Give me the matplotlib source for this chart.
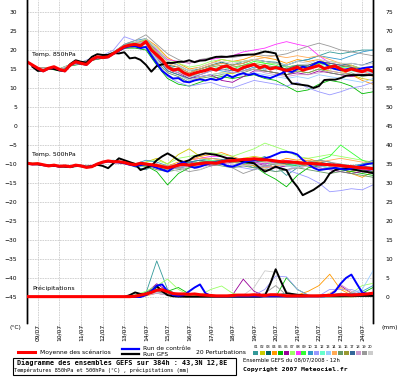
import matplotlib
matplotlib.use("Agg")
from matplotlib import pyplot as plt
from matplotlib.lines import Line2D
from matplotlib.patches import Rectangle

# échéances (heures depuis le 08/07 12h)
HOURS_6 = list(range(0, 385, 6))
HOURS_12 = list(range(0, 385, 12))
DAY_HOURS = list(range(12, 384, 24))
DAYS = ["09/07", "10/07", "11/07", "12/07", "13/07", "14/07", "15/07", "16/07",
        "17/07", "18/07", "19/07", "20/07", "21/07", "22/07", "23/07", "24/07"]
NAN = float("nan")

# ---- Température 850 hPa (°C), pas de 6h
t850_mean = [16.9, 16.05, 15.2, 14.5, 15.2, 15.6, 14.9, 14.5, 16.05, 16.9, 16.5, 16.2, 17.5, 18.2, 18.0, 18.2,
             19.1, 20.0, 20.9, 21.3, 21.5, 21.1, 22.2, 20.0, 18.7, 17.4, 15.6, 14.7, 15.0, 14.0, 13.4, 13.9,
             14.3, 14.6, 15.1, 14.7, 15.5, 15.8, 15.0, 14.6, 15.4, 15.8, 16.2, 15.3, 15.8, 15.0, 15.4, 15.0,
             14.6, 15.0, 15.5, 14.7, 15.1, 15.5, 15.9, 15.1, 15.5, 15.8, 15.0, 14.5, 15.0, 14.6, 14.3, 14.9, 14.4]
t850_ctrl = [16.9, 16.0, 15.1, 14.4, 15.1, 15.5, 14.8, 14.4, 16.0, 16.8, 16.4, 16.1, 17.4, 18.1, 17.9, 18.1,
             19.0, 19.8, 20.6, 21.0, 21.0, 20.5, 20.8, 18.5, 16.5, 14.5, 13.4, 12.5, 12.6, 11.7, 11.5, 12.0,
             12.3, 12.0, 12.4, 12.1, 12.5, 13.5, 12.8, 13.5, 13.9, 13.4, 13.8, 13.2, 12.9, 12.6, 13.2, 13.8,
             14.5, 14.2, 15.0, 15.6, 15.3, 16.2, 16.9, 16.5, 15.5, 15.0, 14.7, 14.9, 15.2, 14.8, 15.2, 15.4, 15.6]
t850_gfs = [NAN, 15.6, 14.5, 14.6, 15.2, 15.0, 14.6, 14.5, 16.3, 17.3, 16.9, 16.7, 18.2, 18.9, 18.7, 18.7,
            19.2, 19.1, 19.4, 17.8, 18.0, 17.4, 16.1, 14.3, 15.8, 16.2, 16.6, 16.6, 16.9, 16.9, 17.3, 16.8,
            17.2, 17.3, 17.8, 18.2, 18.2, 18.2, 18.4, 18.6, 18.7, 18.8, 18.8, 19.2, 19.6, 19.4, 19.1, 15.6,
            13.0, 11.2, 11.0, 10.8, 10.6, 10.0, 10.5, 12.1, 12.2, 12.2, 12.6, 13.2, 13.4, 13.4, 13.4, 13.4, 13.4]

# 20 perturbations, pas de 12h
t850_pert = [
    [16.9, 15.3, 15.0, 14.8, 16.2, 16.6, 17.8, 18.3, 19.5, 21.4, 22.0, 22.5, 20.0, 17.0, 16.0, 14.5, 15.0, 15.8, 16.5, 16.0, 17.0, 17.5, 17.0, 16.8, 16.0, 17.0, 17.5, 18.5, 19.5, 19.0, 19.5, 20.0, 20.0],
    [16.9, 15.1, 15.3, 15.0, 15.9, 16.4, 17.3, 17.9, 19.0, 20.5, 21.0, 21.8, 18.0, 14.5, 13.5, 12.0, 12.8, 13.5, 14.0, 13.8, 14.5, 15.0, 14.5, 14.0, 13.5, 14.5, 14.0, 15.0, 14.5, 14.0, 13.5, 12.5, 12.0],
    [16.9, 15.2, 15.1, 14.7, 16.1, 16.7, 17.6, 18.2, 19.3, 21.0, 21.8, 22.5, 19.5, 16.0, 15.5, 14.0, 15.0, 16.0, 16.8, 16.0, 16.5, 17.5, 17.0, 16.5, 15.5, 16.0, 15.5, 16.5, 16.0, 15.5, 16.0, 15.0, 15.5],
    [16.9, 15.3, 15.2, 15.0, 16.0, 16.4, 17.4, 17.8, 19.0, 21.2, 22.0, 23.0, 21.0, 18.0, 16.5, 15.0, 15.5, 16.5, 17.5, 17.0, 17.5, 18.5, 18.0, 17.5, 16.5, 17.5, 17.0, 17.5, 16.0, 14.5, 13.5, 12.0, 11.0],
    [16.9, 15.2, 15.0, 14.6, 15.8, 16.3, 17.3, 17.9, 19.0, 20.5, 20.5, 20.0, 16.0, 12.5, 11.0, 10.5, 11.5, 12.5, 13.0, 12.5, 13.0, 13.5, 12.5, 12.0, 10.5, 9.0, 9.5, 11.0, 12.0, 11.5, 10.5, 8.5, 9.0],
    [16.9, 15.2, 15.3, 14.9, 16.1, 16.5, 17.4, 18.1, 19.2, 20.8, 21.2, 21.8, 18.5, 15.0, 14.0, 12.5, 13.0, 13.5, 12.0, 11.5, 13.0, 14.5, 14.5, 14.0, 13.5, 14.0, 13.5, 14.5, 14.0, 13.5, 13.0, 13.5, 14.0],
    [16.9, 15.1, 15.2, 15.0, 16.0, 16.6, 17.6, 18.0, 19.0, 21.0, 21.8, 22.8, 20.5, 17.5, 16.5, 15.5, 16.0, 17.0, 17.5, 17.0, 17.0, 17.5, 16.5, 16.5, 15.5, 16.0, 15.5, 16.5, 17.0, 16.5, 16.0, 15.0, 15.5],
    [16.9, 15.2, 15.1, 14.9, 16.1, 16.6, 17.6, 18.1, 19.2, 21.0, 21.6, 22.4, 20.0, 17.5, 17.0, 16.5, 17.4, 17.5, 18.0, 18.5, 19.5, 20.0, 20.5, 21.5, 22.2, 21.5, 20.9, 18.5, 16.6, 16.0, 15.5, 15.0, 15.5],
    [16.9, 15.3, 15.3, 15.1, 16.2, 16.7, 17.7, 18.2, 19.4, 21.3, 22.0, 22.6, 19.0, 15.5, 14.5, 13.0, 14.0, 15.0, 15.5, 15.0, 16.0, 17.0, 16.5, 16.0, 15.0, 15.5, 15.5, 16.5, 16.0, 15.5, 15.5, 14.5, 14.5],
    [16.9, 15.2, 15.2, 14.9, 16.0, 16.5, 17.5, 18.0, 19.1, 21.5, 22.5, 23.0, 19.5, 16.0, 14.5, 13.5, 14.5, 15.0, 14.5, 14.0, 14.5, 15.5, 15.0, 15.5, 16.0, 17.0, 17.5, 18.5, 18.0, 17.5, 18.5, 19.5, 20.0],
    [16.9, 15.3, 15.2, 15.0, 16.2, 16.8, 17.9, 18.6, 20.0, 23.5, 22.5, 21.5, 17.0, 13.0, 11.5, 10.5, 11.0, 11.5, 10.5, 10.0, 11.0, 12.0, 11.5, 11.0, 10.5, 11.5, 10.0, 9.0, 8.2, 9.0, 10.0, 10.5, 11.5],
    [16.9, 15.2, 15.1, 14.8, 15.9, 16.4, 17.4, 17.9, 18.9, 20.6, 21.2, 22.0, 18.5, 15.0, 14.5, 13.0, 14.0, 15.0, 15.5, 15.0, 15.5, 16.0, 15.5, 15.0, 14.5, 15.0, 15.0, 16.0, 15.5, 14.5, 14.5, 14.0, 14.0],
    [16.9, 15.2, 15.2, 14.9, 16.0, 16.6, 17.5, 18.1, 19.2, 21.2, 21.8, 22.0, 17.5, 14.5, 13.5, 12.0, 13.0, 13.5, 14.0, 13.0, 13.5, 14.0, 13.5, 13.0, 12.5, 13.0, 12.5, 13.5, 13.0, 12.5, 12.0, 11.5, 12.5],
    [16.9, 15.3, 15.3, 15.0, 16.1, 16.6, 17.6, 18.2, 19.3, 21.0, 21.6, 22.6, 19.5, 16.5, 15.5, 14.0, 15.0, 16.0, 16.5, 16.0, 16.5, 17.5, 18.0, 18.5, 18.0, 18.5, 18.0, 18.5, 17.5, 16.5, 16.0, 14.5, 13.0],
    [16.9, 15.1, 15.1, 14.8, 15.9, 16.4, 17.3, 17.8, 18.9, 20.4, 20.8, 21.0, 17.0, 14.0, 13.0, 11.5, 12.5, 13.0, 13.5, 13.0, 14.0, 15.0, 14.5, 14.0, 13.5, 14.5, 14.0, 15.0, 14.0, 13.5, 14.0, 13.0, 13.5],
    [16.9, 15.2, 15.2, 14.9, 16.0, 16.5, 17.5, 18.0, 19.1, 20.8, 21.4, 22.0, 18.5, 15.5, 15.0, 13.5, 14.5, 15.5, 16.0, 15.5, 16.0, 16.5, 16.0, 15.5, 15.0, 16.0, 16.0, 17.0, 16.5, 16.0, 15.5, 15.0, 15.5],
    [16.9, 15.2, 15.2, 14.9, 16.0, 16.4, 17.4, 17.9, 19.0, 20.7, 21.3, 21.8, 18.0, 14.5, 13.5, 12.5, 13.5, 14.5, 15.0, 14.5, 15.0, 16.0, 15.5, 15.5, 15.0, 16.0, 16.0, 17.0, 16.5, 16.0, 16.5, 16.0, 17.0],
    [16.9, 15.2, 15.1, 14.8, 16.0, 16.5, 17.5, 18.0, 19.2, 21.0, 21.5, 22.0, 18.0, 15.0, 14.0, 13.0, 13.5, 14.5, 15.0, 14.0, 14.5, 15.0, 14.0, 13.5, 13.0, 13.5, 13.5, 14.0, 14.5, 14.0, 13.5, 14.0, 14.5],
    [16.9, 15.3, 15.2, 15.0, 16.1, 16.7, 17.7, 18.3, 19.4, 21.5, 22.5, 24.0, 21.5, 19.0, 17.5, 16.5, 17.5, 18.0, 18.5, 18.0, 18.5, 19.0, 18.5, 18.5, 19.0, 20.0, 21.0, 21.8, 21.0, 20.0, 19.5, 19.0, 18.5],
    [16.9, 15.2, 15.2, 15.0, 16.1, 16.6, 17.6, 18.2, 19.3, 21.2, 22.0, 23.0, 20.5, 17.0, 16.0, 14.5, 15.5, 16.5, 17.0, 16.5, 17.0, 17.5, 17.0, 16.5, 16.0, 17.0, 16.5, 17.5, 17.0, 16.5, 16.5, 16.0, 16.5],
]

# ---- Température 500 hPa (°C)
t500_mean = [-9.8, -10.0, -9.9, -10.2, -10.5, -10.3, -10.6, -10.5, -10.7, -10.3, -10.5, -10.9, -10.7, -10.0, -9.5, -9.2,
             -9.4, -9.4, -9.6, -10.0, -10.2, -9.8, -10.0, -10.2, -10.4, -10.7, -11.0, -10.7, -10.3, -10.1, -10.3, -10.1,
             -9.9, -9.7, -9.7, -9.8, -9.4, -9.2, -9.1, -9.0, -8.8, -8.8, -8.6, -8.8, -8.9, -9.0, -9.2, -9.4,
             -9.4, -9.5, -9.6, -9.8, -9.8, -9.9, -10.0, -10.1, -10.2, -10.3, -10.4, -10.6, -10.7, -10.9, -11.0, -11.1, -11.2]
t500_ctrl = [-9.9, -10.1, -10.0, -10.3, -10.5, -10.4, -10.7, -10.5, -10.8, -10.4, -10.5, -10.8, -10.6, -10.0, -9.6, -9.3,
             -9.5, -9.6, -9.8, -10.2, -10.5, -10.3, -10.0, -10.5, -11.0, -11.5, -12.0, -11.0, -10.0, -9.5, -10.5, -11.0,
             -10.7, -10.2, -9.8, -9.6, -9.9, -10.5, -10.7, -10.2, -9.6, -9.2, -9.0, -8.8, -8.5, -8.1, -7.5, -6.9,
             -6.8, -7.0, -7.5, -8.9, -10.0, -11.0, -11.6, -11.4, -11.2, -11.0, -11.3, -11.5, -11.2, -10.8, -10.4, -10.0, -9.8]
t500_gfs = [NAN, -10.0, -10.1, -10.3, -10.4, -10.5, -10.6, -10.7, -10.8, -10.4, -10.6, -10.8, -10.6, -10.2, -10.5, -11.1,
            -9.8, -8.5, -9.0, -9.5, -10.0, -11.6, -11.0, -10.5, -9.0, -8.0, -7.2, -8.0, -9.0, -9.5, -9.0, -8.0,
            -7.6, -7.2, -7.4, -7.6, -8.0, -8.5, -8.5, -9.0, -9.4, -9.6, -9.8, -11.0, -12.0, -11.4, -10.7, -11.2,
            -11.6, -14.2, -16.0, -18.2, -17.5, -16.8, -15.8, -14.7, -12.5, -11.6, -11.3, -11.2, -11.4, -11.6, -11.9, -12.1, -12.4]
t500_pert = [
    [-9.8, -10.0, -10.4, -10.8, -10.5, -10.3, -10.9, -9.3, -9.0, -9.5, -10.8, -11.5, -10.0, -12.0, -10.5, -9.5, -9.0, -8.5, -8.8, -9.5, -10.0, -9.0, -8.0, -10.5, -13.0, -11.0, -9.5, -9.0, -9.5, -10.5, -11.0, -10.0, -9.5],
    [-9.8, -9.8, -10.6, -10.5, -10.8, -10.6, -10.5, -9.6, -9.3, -9.8, -10.0, -9.5, -8.5, -10.0, -7.5, -6.0, -8.0, -9.0, -9.5, -9.0, -8.5, -8.0, -8.5, -9.5, -10.0, -9.5, -9.0, -10.0, -10.5, -11.5, -12.0, -11.5, -12.5],
    [-9.8, -9.9, -10.5, -10.7, -10.6, -10.4, -10.8, -9.4, -9.5, -9.7, -10.5, -10.2, -11.0, -11.5, -11.0, -10.5, -10.0, -9.5, -9.0, -9.5, -9.0, -9.5, -10.0, -9.5, -10.0, -10.5, -10.0, -9.5, -10.0, -10.5, -11.0, -11.5, -12.0],
    [-9.8, -10.0, -10.4, -10.6, -10.7, -10.6, -10.6, -9.5, -9.2, -9.4, -9.8, -9.8, -10.5, -10.5, -9.5, -9.0, -8.0, -7.5, -7.0, -8.0, -9.0, -10.5, -11.5, -9.5, -8.5, -9.0, -8.5, -9.5, -10.5, -11.0, -12.5, -13.5, -12.0],
    [-9.8, -9.9, -10.5, -10.6, -10.8, -10.5, -10.7, -9.6, -9.5, -9.8, -10.5, -10.5, -12.0, -15.5, -12.5, -11.0, -10.5, -10.0, -9.5, -9.0, -9.5, -10.5, -12.5, -14.0, -16.0, -13.0, -11.0, -10.5, -11.0, -11.5, -12.0, -12.5, -13.0],
    [-9.8, -9.9, -10.6, -10.5, -10.7, -10.5, -10.7, -9.5, -9.6, -9.5, -10.0, -10.5, -10.0, -11.0, -10.0, -9.5, -10.0, -10.5, -10.0, -9.5, -9.0, -9.5, -10.5, -11.0, -10.5, -10.0, -10.5, -11.0, -11.5, -12.0, -12.5, -12.0, -11.5],
    [-9.8, -9.8, -10.5, -10.6, -10.6, -10.4, -10.6, -9.4, -9.3, -9.6, -10.0, -9.5, -9.0, -10.0, -8.5, -8.0, -7.5, -7.0, -7.5, -8.0, -7.0, -6.0, -4.5, -5.5, -6.5, -8.0, -8.5, -8.0, -7.5, -8.0, -8.5, -9.0, -9.5],
    [-9.8, -9.9, -10.4, -10.6, -10.7, -10.5, -10.7, -9.5, -9.3, -9.5, -10.0, -10.0, -10.5, -10.5, -10.0, -9.0, -8.5, -8.0, -8.0, -8.5, -9.0, -9.5, -10.0, -9.5, -9.0, -9.5, -10.0, -10.5, -10.0, -10.5, -11.0, -11.5, -11.0],
    [-9.8, -9.9, -10.5, -10.7, -10.7, -10.5, -10.8, -9.6, -9.4, -9.7, -10.3, -10.5, -10.5, -11.5, -10.5, -10.0, -9.5, -9.0, -9.5, -9.0, -9.5, -9.0, -8.5, -9.5, -10.0, -10.5, -10.0, -9.0, -8.0, -5.0, -7.0, -9.0, -10.0],
    [-9.8, -10.0, -10.6, -10.5, -10.8, -10.6, -10.6, -9.4, -9.5, -9.5, -10.0, -9.0, -9.5, -10.5, -11.0, -10.5, -9.5, -9.5, -9.0, -9.5, -10.0, -11.0, -10.5, -10.0, -10.5, -11.0, -10.5, -10.0, -10.5, -11.0, -10.5, -10.0, -9.0],
    [-9.8, -9.9, -10.5, -10.6, -10.7, -10.5, -10.7, -9.5, -9.4, -9.6, -10.2, -10.0, -10.5, -11.0, -10.5, -10.5, -10.0, -9.5, -10.0, -10.5, -11.0, -11.5, -11.0, -10.5, -11.5, -12.5, -13.5, -15.0, -17.3, -17.0, -16.5, -16.8, -15.5],
    [-9.8, -9.8, -10.4, -10.6, -10.6, -10.5, -10.6, -9.5, -9.4, -9.6, -10.1, -10.2, -10.3, -10.5, -10.0, -9.5, -9.0, -9.0, -9.5, -9.0, -8.5, -9.0, -9.5, -10.0, -10.5, -10.0, -9.5, -10.0, -10.5, -10.0, -10.5, -11.0, -11.5],
    [-9.8, -9.9, -10.5, -10.6, -10.7, -10.6, -10.7, -9.6, -9.5, -9.6, -10.4, -10.0, -10.0, -11.0, -10.5, -10.0, -10.0, -9.5, -9.5, -9.0, -9.5, -10.0, -11.0, -12.0, -11.5, -10.5, -10.0, -10.5, -11.0, -11.5, -11.5, -11.0, -10.5],
    [-9.8, -9.9, -10.5, -10.5, -10.7, -10.5, -10.7, -9.5, -9.3, -9.5, -10.0, -9.8, -10.0, -10.5, -10.0, -9.0, -8.5, -8.5, -9.0, -9.5, -10.0, -10.5, -11.0, -10.5, -10.0, -9.5, -9.0, -9.5, -9.0, -8.5, -9.0, -9.5, -9.5],
    [-9.8, -9.9, -10.6, -10.7, -10.8, -10.6, -10.8, -9.6, -9.5, -9.8, -10.5, -10.5, -11.5, -12.0, -11.5, -11.0, -10.5, -10.0, -10.5, -11.0, -10.5, -11.0, -11.5, -12.0, -11.5, -11.0, -11.5, -12.0, -12.5, -12.0, -12.5, -13.0, -13.5],
    [-9.8, -10.0, -10.5, -10.6, -10.6, -10.5, -10.6, -9.5, -9.4, -9.5, -10.0, -10.0, -10.5, -11.0, -10.5, -10.0, -9.5, -9.5, -9.0, -9.5, -9.5, -9.0, -9.5, -10.0, -9.5, -10.0, -10.5, -10.0, -10.5, -11.0, -11.5, -12.0, -12.5],
    [-9.8, -9.9, -10.5, -10.7, -10.7, -10.4, -10.7, -9.5, -9.3, -9.6, -10.0, -10.2, -10.5, -11.0, -10.0, -9.5, -9.0, -9.5, -9.0, -8.5, -9.0, -9.5, -9.0, -9.5, -10.0, -9.5, -10.0, -10.5, -10.0, -10.5, -11.0, -10.5, -11.0],
    [-9.8, -9.9, -10.5, -10.6, -10.7, -10.5, -10.7, -9.5, -9.5, -9.6, -10.2, -10.0, -10.5, -11.5, -11.0, -10.5, -10.5, -10.0, -9.5, -10.0, -10.5, -10.0, -10.5, -11.0, -11.5, -11.0, -10.5, -11.0, -11.5, -11.0, -11.5, -12.0, -12.5],
    [-9.8, -9.9, -10.4, -10.6, -10.7, -10.5, -10.7, -9.4, -9.4, -9.6, -10.2, -10.0, -10.5, -10.5, -11.0, -12.0, -11.5, -10.5, -10.0, -11.0, -12.5, -11.5, -10.5, -10.0, -9.5, -10.0, -9.5, -9.0, -9.5, -10.0, -10.5, -11.0, -11.5],
    [-9.8, -9.9, -10.5, -10.6, -10.7, -10.5, -10.7, -9.5, -9.4, -9.6, -10.2, -10.0, -10.4, -11.0, -12.0, -10.5, -11.5, -10.0, -9.5, -10.0, -10.5, -10.0, -9.5, -10.0, -10.5, -11.0, -10.5, -10.0, -10.5, -11.0, -11.5, -11.0, -11.5],
]

# ---- Précipitations (mm), axe de droite
prec_mean = [0.1, 0.1, 0.1, 0.1, 0.1, 0.1, 0.1, 0.1, 0.1, 0.1, 0.1, 0.1, 0.1, 0.1, 0.1, 0.1,
             0.1, 0.1, 0.1, 0.1, 0.2, 0.5, 0.8, 1.2, 1.8, 1.9, 1.4, 0.9, 0.8, 0.8, 0.7, 0.8,
             0.6, 0.5, 0.4, 0.3, 0.3, 0.3, 0.4, 0.5, 0.5, 0.5, 0.6, 0.5, 0.4, 0.6, 0.6, 0.5,
             0.3, 0.3, 0.3, 0.3, 0.3, 0.3, 0.3, 0.4, 0.4, 0.5, 0.6, 0.6, 0.5, 0.6, 0.7, 0.8, 1.0]
prec_ctrl = [0.0, 0.0, 0.0, 0.0, 0.0, 0.0, 0.0, 0.0, 0.0, 0.0, 0.0, 0.0, 0.0, 0.0, 0.0, 0.0,
             0.0, 0.0, 0.0, 0.0, 0.0, 0.0, 0.5, 1.5, 3.0, 3.3, 1.5, 0.5, 0.3, 0.5, 1.5, 2.5,
             3.3, 1.0, 0.3, 0.2, 0.2, 0.2, 0.2, 0.2, 0.2, 0.2, 0.2, 0.2, 0.2, 0.2, 0.2, 0.2,
             0.2, 0.2, 0.2, 0.2, 0.2, 0.2, 0.2, 0.2, 0.5, 1.5, 3.5, 5.0, 5.9, 3.5, 1.2, 0.8, 1.0]
prec_gfs = [NAN, 0.0, 0.0, 0.0, 0.0, 0.0, 0.0, 0.0, 0.0, 0.0, 0.0, 0.0, 0.0, 0.0, 0.0, 0.0,
            0.0, 0.0, 0.0, 0.5, 1.2, 0.8, 0.5, 1.5, 2.9, 1.5, 0.5, 0.2, 0.1, 0.1, 0.1, 0.1,
            0.1, 0.1, 0.1, 0.1, 0.1, 0.1, 0.1, 0.1, 0.1, 0.1, 0.1, 0.1, 0.3, 3.5, 7.3, 4.0,
            1.0, 0.8, 0.6, 0.5, 0.3, 0.3, 0.3, 0.3, 0.3, 0.3, 0.3, 0.3, 0.3, 0.3, 0.3, 0.3, 0.3]
prec_pert = [
    [0, 0, 0, 0, 0, 0, 0, 0, 0, 0, 0.2, 1.0, 9.5, 2.0, 0.5, 0.2, 0, 0, 0, 0, 0, 0, 0, 0, 0.2, 0.3, 0, 0, 0.5, 1.0, 0.5, 0.2, 0.3],
    [0, 0, 0, 0, 0, 0, 0, 0, 0, 0, 0.3, 0.5, 1.5, 0.8, 0.2, 0, 0, 0, 0, 0, 0, 0.5, 0.3, 0, 0, 0, 0.3, 0.5, 0.2, 0, 0, 0.2, 0.5],
    [0, 0, 0, 0, 0, 0, 0, 0, 0, 0, 0.5, 1.2, 2.5, 1.0, 0.3, 0, 0, 0, 0, 0, 0, 0, 0, 0.5, 1.0, 0.5, 0, 0, 0, 0, 0.3, 0.5, 0.3],
    [0, 0, 0, 0, 0, 0, 0, 0, 0, 0, 0, 0.3, 1.0, 0.5, 0.2, 0, 0, 0, 0, 0, 0, 0, 0, 0, 0, 0.5, 1.5, 3.0, 6.0, 2.0, 0.5, 0.3, 0.5],
    [0, 0, 0, 0, 0, 0, 0, 0, 0, 0, 0.2, 0.8, 2.0, 1.5, 2.5, 0.8, 0.2, 0, 0, 0, 0, 0, 0, 0, 5.1, 2.0, 0.5, 0, 0, 0, 0.5, 1.0, 2.5],
    [0, 0, 0, 0, 0, 0, 0, 0, 0, 0, 0.3, 1.0, 3.5, 1.5, 0.5, 0, 0, 0, 0, 0.5, 4.7, 1.5, 0.3, 0, 0, 0, 0, 0, 0.5, 3.0, 1.0, 0.5, 0.3],
    [0, 0, 0, 0, 0, 0, 0, 0, 0, 0, 0.5, 1.5, 3.0, 4.7, 2.0, 0.5, 0.5, 2.0, 2.9, 1.0, 0.3, 0, 0, 0, 0, 0, 0, 0, 0.3, 0.5, 1.0, 3.0, 3.6],
    [0, 0, 0, 0, 0, 0, 0, 0, 0, 0, 0.2, 0.5, 2.0, 1.0, 0.3, 0, 0, 0, 0, 0, 0, 0.3, 0.5, 0.3, 0, 0, 0, 0, 0.5, 0.3, 0.2, 0.5, 0.5],
    [0, 0, 0, 0, 0, 0, 0, 0, 0, 0, 0.3, 1.0, 2.5, 1.5, 0.5, 0.3, 0, 0, 0, 0, 0, 0, 0, 0, 0, 0, 0, 0, 0.3, 0.5, 0.3, 0.5, 0.8],
    [0, 0, 0, 0, 0, 0, 0, 0, 0, 0, 0.2, 0.5, 1.5, 1.0, 0.5, 0.2, 0, 0, 0, 0, 0, 0, 0, 0, 0, 0, 0, 0, 0, 0.3, 0.5, 1.5, 3.0],
    [0, 0, 0, 0, 0, 0, 0, 0, 0, 0, 0.2, 0.5, 1.0, 0.5, 0.3, 0, 0, 0, 0, 0, 0, 0.5, 2.0, 5.5, 5.3, 2.0, 0.5, 0.3, 2.0, 2.0, 2.0, 1.0, 0.5],
    [0, 0, 0, 0, 0, 0, 0, 0, 0, 0, 0.3, 0.8, 1.5, 1.0, 0.3, 0, 0, 0, 0, 0, 0, 0, 0, 0.3, 0.5, 0.3, 0, 0, 0, 0.3, 0.5, 0.3, 0.5],
    [0, 0, 0, 0, 0, 0, 0, 0, 0, 0, 0.2, 0.6, 1.2, 0.8, 0.3, 0.2, 0, 0, 0, 0, 0, 0, 0, 0, 0, 0, 0, 0, 0.3, 0.5, 1.0, 2.0, 6.9],
    [0, 0, 0, 0, 0, 0, 0, 0, 0, 0, 0.2, 0.5, 1.5, 0.8, 0.3, 0, 0, 0, 0, 0, 0, 0, 0, 0, 0, 0, 0, 0, 1.0, 2.5, 1.0, 0.5, 0.3],
    [0, 0, 0, 0, 0, 0, 0, 0, 0, 0, 0.3, 1.0, 2.0, 1.5, 0.5, 0.2, 0, 0, 0, 0, 0, 0, 0, 0, 0, 0.3, 0.2, 0, 0, 0, 0, 0.3, 0.5],
    [0, 0, 0, 0, 0, 0, 0, 0, 0, 0, 0.2, 0.8, 1.8, 1.0, 0.4, 0, 0, 0, 0, 0, 0, 0, 0, 0, 0, 0, 0, 0, 0.3, 0.5, 0.3, 0.2, 0.4],
    [0, 0, 0, 0, 0, 0, 0, 0, 0, 0, 0.3, 0.8, 1.5, 0.5, 0.2, 0, 0, 0, 0, 0, 0, 0, 0, 0, 0, 0, 0, 0, 0, 0.5, 1.0, 0.5, 0.5],
    [0, 0, 0, 0, 0, 0, 0, 0, 0, 0, 0.2, 0.5, 1.0, 0.5, 0.2, 0, 0, 0, 0, 0, 0, 0, 0, 0, 0, 0, 0, 0, 0.5, 3.3, 1.5, 0.5, 0.3],
    [0, 0, 0, 0, 0, 0, 0, 0, 0, 0, 0.3, 0.6, 1.5, 0.8, 0.3, 0, 0, 0, 0, 0, 0, 0, 1.0, 3.0, 0.5, 0, 0, 0, 0, 0, 0.3, 0.3, 0.5],
    [0, 0, 0, 0, 0, 0, 0, 0, 0, 0, 0.2, 0.5, 1.2, 0.6, 0.2, 0, 0, 0, 0, 0, 0.5, 2.5, 6.9, 6.5, 1.5, 0.3, 0, 0, 0, 0, 0, 0.2, 0.3],
]

PERT_COLORS = ["#339999", "#cccc00", "#006666", "#ff9900", "#00bb00", "#990099", "#99ff66", "#ff33ff",
               "#33ff33", "#3399cc", "#9999ff", "#66ffcc", "#99ccff", "#ffaa55", "#669966", "#999933",
               "#336699", "#cc99cc", "#999999", "#cccccc"]

FS = 4.3

fig = plt.figure(figsize=(4.0, 3.78), dpi=100)
ax = fig.add_axes([27 / 400, 1 - 323 / 378, 346 / 400, 323 / 378])
ax2 = ax.twinx()

ylo, yhi = -51.84, 33.16
ax.set_ylim(ylo, yhi)
ax2.set_ylim(ylo + 45, yhi + 45)
ax.set_xlim(0, 384)

for k in range(20):
    c = PERT_COLORS[k]
    ax.plot(HOURS_12, t850_pert[k], color=c, lw=0.6, zorder=2)
    ax.plot(HOURS_12, t500_pert[k], color=c, lw=0.6, zorder=2)
    ax2.plot(HOURS_12, prec_pert[k], color=c, lw=0.6, zorder=2)

for series, axis in [(t850_gfs, ax), (t500_gfs, ax), (prec_gfs, ax2)]:
    axis.plot(HOURS_6, series, color="black", lw=1.4, zorder=3)
for series, axis in [(t850_ctrl, ax), (t500_ctrl, ax), (prec_ctrl, ax2)]:
    axis.plot(HOURS_6, series, color="#0000ff", lw=1.4, zorder=4)
for series, axis in [(t850_mean, ax), (t500_mean, ax), (prec_mean, ax2)]:
    axis.plot(HOURS_6, series, color="#ff0000", lw=2.2, zorder=5)

ax.set_yticks(range(-45, 31, 5))
ax2.set_yticks(range(0, 76, 5))
ax.set_xticks(DAY_HOURS, DAYS, rotation=90)
ax.grid(True, color="#cccccc", lw=0.6, linestyle=(0, (2, 1)))
ax.tick_params(axis="y", length=0, pad=7, labelsize=FS)
ax2.tick_params(axis="y", length=0, pad=9, labelsize=FS)
ax.tick_params(axis="x", length=12, color="#cccccc", width=0.6, pad=-11.5, labelsize=FS)
for a in (ax, ax2):
    a.spines["top"].set_visible(False)
    a.spines["bottom"].set_visible(False)
    a.spines["left"].set_linewidth(1.0)
    a.spines["right"].set_linewidth(1.0)

ax.text(6, 18.5, "Temp. 850hPa", fontsize=4.5, zorder=6)
ax.text(6, -7.8, "Temp. 500hPa", fontsize=4.5, zorder=6)
ax.text(6, -43.2, "Précipitations", fontsize=4.5, zorder=6)

# texte hors du graphique
fig.text(10 / 400, 1 - 328 / 378, "(°C)", fontsize=FS, va="center")
fig.text(382 / 400, 1 - 328 / 378, "(mm)", fontsize=FS, va="center")

fig.add_artist(Line2D([18 / 400, 35 / 400], [1 - 352 / 378] * 2, color="#ff0000", lw=2.2))
fig.text(40 / 400, 1 - 352 / 378, "Moyenne des scénarios", fontsize=FS, va="center")
fig.add_artist(Line2D([122 / 400, 139 / 400], [1 - 349 / 378] * 2, color="#0000ff", lw=1.6))
fig.add_artist(Line2D([122 / 400, 139 / 400], [1 - 354 / 378] * 2, color="black", lw=1.6))
fig.text(143 / 400, 1 - 348.5 / 378, "Run de contrôle", fontsize=FS, va="center")
fig.text(143 / 400, 1 - 354 / 378, "Run GFS", fontsize=FS, va="center")
fig.text(196 / 400, 1 - 352 / 378, "20 Perturbations", fontsize=FS, va="center")

for k in range(20):
    x0 = (253 + 6 * k) / 400
    fig.text(x0 + 3 / 400, 1 - 347 / 378, "%02d" % (k + 1), fontsize=2.6, ha="center", va="center")
    fig.add_artist(Rectangle((x0 + 0.5 / 400, 1 - 354.5 / 378), 5 / 400, 4 / 378,
                             facecolor=PERT_COLORS[k], edgecolor="none"))

fig.add_artist(Rectangle((13 / 400, 1 - 375 / 378), 223 / 400, 17 / 378,
                         facecolor="white", edgecolor="black", lw=0.8))
fig.text(17 / 400, 1 - 363 / 378, "Diagramme des ensembles GEFS sur 384h : 43,3N 12,8E",
         fontsize=4.9, family="DejaVu Sans Mono", weight="bold", va="center")
fig.text(14 / 400, 1 - 370.5 / 378, "Températures 850hPa et 500hPa (°C) , précipitations (mm)",
         fontsize=3.8, family="DejaVu Sans Mono", va="center")
fig.text(243 / 400, 1 - 359.5 / 378, "Ensemble GEFS du 08/07/2008 - 12h", fontsize=3.8, va="center")
fig.text(243 / 400, 1 - 369.5 / 378, "Copyright 2007 Meteociel.fr",
         fontsize=4.6, family="DejaVu Sans Mono", weight="bold", va="center")

fig.savefig("out.png", dpi=100)
